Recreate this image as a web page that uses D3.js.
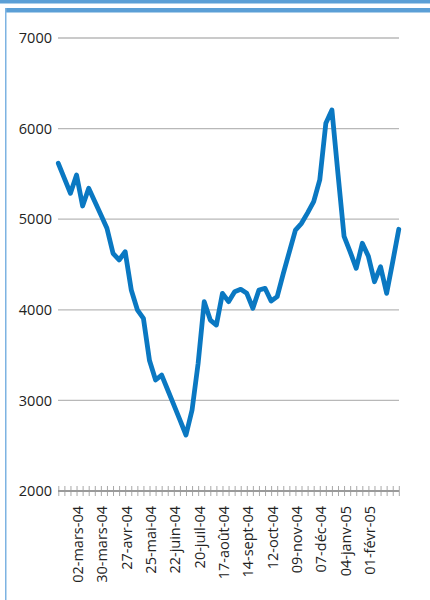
<!DOCTYPE html>
<html>
<head>
<meta charset="utf-8">
<script src="https://cdn.jsdelivr.net/npm/d3@7"></script>
<style>
  body { margin: 0; background: #fff; }
  svg { display: block; font-family: "Open Sans", "Noto Sans", sans-serif; }
</style>
</head>
<body>
<div id="chart"></div>
<script>
// weekly series, first week = 10 Feb 2004
const startDate = new Date(2004, 1, 10);
const values = [
  5617, 5450, 5286, 5488, 5146, 5341, 5195, 5050, 4900, 4624,
  4550, 4641, 4219, 4000, 3906, 3440, 3225, 3280, 3115, 2950,
  2785, 2618, 2894, 3410, 4090, 3887, 3832, 4182, 4090, 4200,
  4226, 4182, 4017, 4219, 4237, 4097, 4145, 4400, 4640, 4880,
  4955, 5070, 5193, 5433, 6058, 6205, 5500, 4810, 4640, 4458,
  4734, 4590, 4310, 4476, 4182, 4530, 4889
];
const yTicks = [2000, 3000, 4000, 5000, 6000, 7000];
const tickLabels = [
  "02-mars-04", "30-mars-04", "27-avr-04", "25-mai-04", "22-juin-04",
  "20-juil-04", "17-août-04", "14-sept-04", "12-oct-04", "09-nov-04",
  "07-déc-04", "04-janv-05", "01-févr-05"
];

const fr = d3.timeFormatLocale({
  dateTime: "%A %e %B %Y à %X", date: "%d/%m/%Y", time: "%H:%M:%S",
  periods: ["AM", "PM"],
  days: ["dimanche", "lundi", "mardi", "mercredi", "jeudi", "vendredi", "samedi"],
  shortDays: ["dim", "lun", "mar", "mer", "jeu", "ven", "sam"],
  months: ["janvier", "février", "mars", "avril", "mai", "juin", "juillet", "août", "septembre", "octobre", "novembre", "décembre"],
  shortMonths: ["janv", "févr", "mars", "avr", "mai", "juin", "juil", "août", "sept", "oct", "nov", "déc"]
});
const fmt = fr.format("%d-%b-%y");

const data = values.map((v, i) => {
  const d = d3.timeDay.offset(startDate, i * 7);
  return { key: fmt(d), value: v };
});

const W = 430, H = 600;
const svg = d3.select("#chart").append("svg")
  .attr("width", W).attr("height", H);

// frame
const blue = "#5b9fd6";
svg.append("rect").attr("x", 0).attr("y", 0).attr("width", W).attr("height", 3.5).attr("fill", blue);
svg.append("rect").attr("x", 5).attr("y", 8).attr("width", W - 5).attr("height", 4.5).attr("fill", blue);
svg.append("rect").attr("x", 5).attr("y", 8).attr("width", 1.5).attr("height", H - 8).attr("fill", "#7db3e2");

const x = d3.scalePoint()
  .domain(data.map(d => d.key))
  .range([58.3, 398.8]);
const y = d3.scaleLinear().domain([2000, 7000]).range([491, 38]);

// gridlines
svg.append("g").selectAll("line")
  .data(yTicks.filter(t => t > 2000))
  .join("line")
  .attr("x1", 58).attr("x2", 399)
  .attr("y1", d => y(d)).attr("y2", d => y(d))
  .attr("stroke", "#b8b8b8").attr("stroke-width", 1.3);

// y labels
svg.append("g")
  .attr("transform", "translate(58,0)")
  .call(d3.axisLeft(y).tickValues(yTicks).tickSize(0).tickPadding(6).tickFormat(d3.format("d")))
  .call(g => g.select(".domain").remove())
  .call(g => g.selectAll("text")
    .attr("font-size", 14.5).attr("fill", "#222")
    .attr("font-family", "'Open Sans', sans-serif"));

// x axis with crossing ticks
const xAxis = svg.append("g")
  .attr("transform", `translate(0,${y(2000)})`)
  .call(d3.axisBottom(x).tickSize(5).tickFormat(""));
xAxis.select(".domain").remove();
xAxis.selectAll(".tick line")
  .attr("y1", -5).attr("y2", 5)
  .attr("stroke", "#a8a8a8").attr("stroke-width", 1);
xAxis.append("line")
  .attr("x1", 58).attr("x2", 399).attr("y1", 0).attr("y2", 0)
  .attr("stroke", "#9a9a9a").attr("stroke-width", 2);

// x labels
svg.append("g").selectAll("text")
  .data(data.filter(d => tickLabels.includes(d.key)))
  .join("text")
  .attr("transform", d => `translate(${x(d.key) + 6.5},506) rotate(-90)`)
  .attr("text-anchor", "end")
  .attr("font-size", 14.5)
  .attr("fill", "#222")
  .text(d => d.key);

// line
const line = d3.line()
  .x(d => x(d.key))
  .y(d => y(d.value));

svg.append("path")
  .datum(data)
  .attr("fill", "none")
  .attr("stroke", "#0a78c2")
  .attr("stroke-width", 4.8)
  .attr("stroke-linejoin", "round")
  .attr("stroke-linecap", "round")
  .attr("d", line);
</script>
</body>
</html>
